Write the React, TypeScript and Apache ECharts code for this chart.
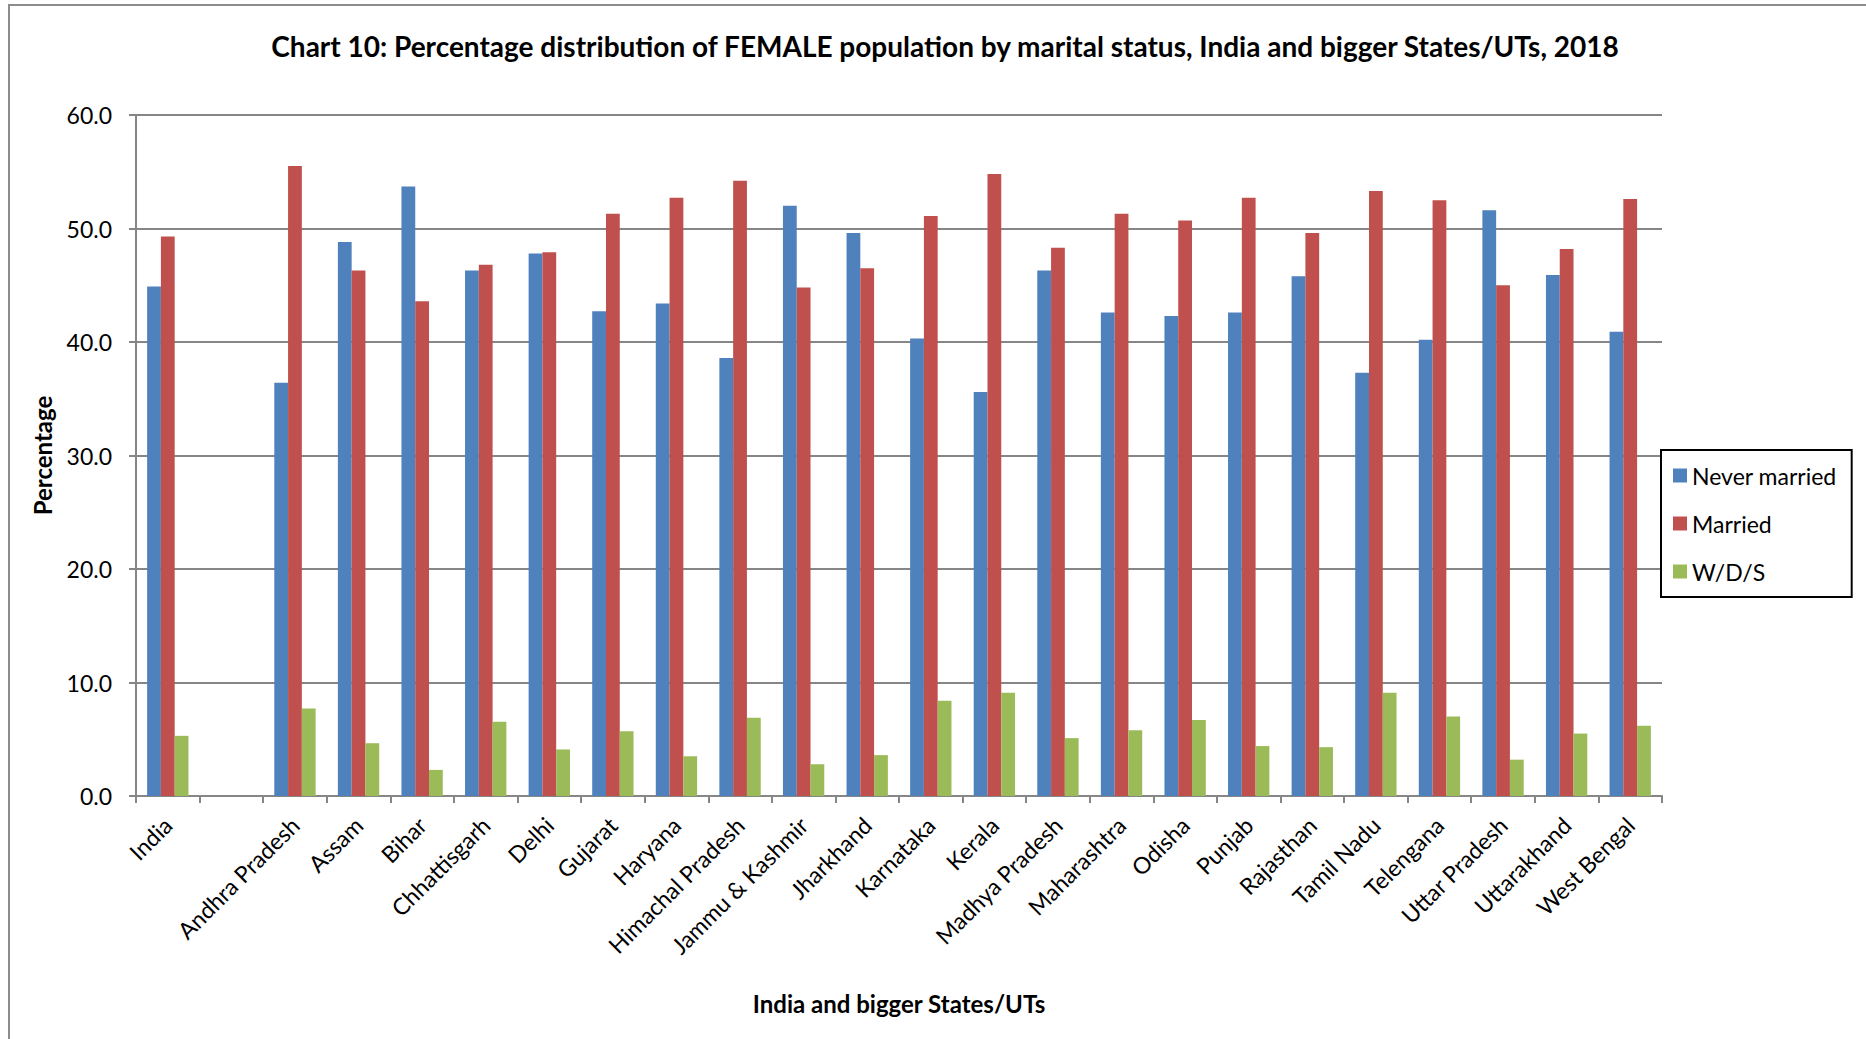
import React, { useEffect, useRef } from "react";
import * as echarts from "echarts";

const categories = [
  "India", "", "Andhra Pradesh", "Assam", "Bihar", "Chhattisgarh", "Delhi", "Gujarat",
  "Haryana", "Himachal Pradesh", "Jammu & Kashmir", "Jharkhand", "Karnataka", "Kerala",
  "Madhya Pradesh", "Maharashtra", "Odisha", "Punjab", "Rajasthan", "Tamil Nadu",
  "Telengana", "Uttar Pradesh", "Uttarakhand", "West Bengal",
];

const neverMarried = [
  44.9, null, 36.4, 48.8, 53.7, 46.3, 47.8, 42.7, 43.4, 38.6, 52.0, 49.6, 40.3, 35.6,
  46.3, 42.6, 42.3, 42.6, 45.8, 37.3, 40.2, 51.6, 45.9, 40.9,
];

const married = [
  49.3, null, 55.5, 46.3, 43.6, 46.8, 47.9, 51.3, 52.7, 54.2, 44.8, 46.5, 51.1, 54.8,
  48.3, 51.3, 50.7, 52.7, 49.6, 53.3, 52.5, 45.0, 48.2, 52.6,
];

const wds = [
  5.3, null, 7.7, 4.65, 2.3, 6.55, 4.1, 5.7, 3.5, 6.9, 2.8, 3.6, 8.4, 9.1,
  5.1, 5.8, 6.7, 4.4, 4.3, 9.1, 7.0, 3.2, 5.5, 6.2,
];

const yTicks = [0, 10, 20, 30, 40, 50, 60];

const seriesNames = ["Never married", "Married", "W/D/S"];
const seriesColors = ["#4F81BD", "#C0504D", "#9BBB59"];

const FONT = "Lato, 'Open Sans', sans-serif";

export default function App() {
  const ref = useRef<HTMLDivElement>(null);

  useEffect(() => {
    if (!ref.current) return;
    const chart = echarts.init(ref.current, null, { renderer: "svg" });
    const dataSets = [neverMarried, married, wds];
    chart.setOption({
      animation: false,
      backgroundColor: "#ffffff",
      textStyle: { fontFamily: FONT, color: "#000" },
      title: {
        text: "Chart 10: Percentage distribution of FEMALE population by marital status, India and bigger States/UTs, 2018",
        left: 940,
        top: 27,
        textAlign: "center",
        textStyle: { fontFamily: FONT, fontWeight: "bold", fontSize: 28, color: "#000" },
      },
      graphic: [
        {
          type: "rect",
          shape: { x: 9, y: 5, width: 1900, height: 1100 },
          style: { fill: "none", stroke: "#8c8c8c", lineWidth: 2 },
          silent: true,
        },
      ],
      legend: {
        orient: "vertical",
        left: 1661,
        top: 450,
        padding: [14, 15, 14, 12],
        itemGap: 25,
        itemWidth: 14,
        itemHeight: 14,
        icon: "rect",
        borderColor: "#000",
        borderWidth: 2,
        data: seriesNames,
        textStyle: { fontFamily: FONT, fontSize: 23, color: "#000", lineHeight: 23 },
      },
      grid: { left: 136, right: 204, top: 115, bottom: 243, containLabel: false },
      xAxis: {
        type: "category",
        data: categories,
        boundaryGap: true,
        name: "India and bigger States/UTs",
        nameLocation: "middle",
        nameGap: 195,
        nameTextStyle: { fontFamily: FONT, fontWeight: "bold", fontSize: 24, color: "#000" },
        axisLine: { lineStyle: { color: "#868686", width: 2 } },
        axisTick: { show: true, interval: 0, length: 7, lineStyle: { color: "#868686", width: 2 } },
        axisLabel: {
          interval: 0,
          rotate: 45,
          margin: 25,
          fontFamily: FONT,
          fontSize: 23,
          color: "#000",
        },
      },
      yAxis: {
        type: "value",
        min: yTicks[0],
        max: yTicks[yTicks.length - 1],
        interval: 10,
        name: "Percentage",
        nameLocation: "middle",
        nameGap: 82,
        nameRotate: 90,
        nameTextStyle: { fontFamily: FONT, fontWeight: "bold", fontSize: 24, color: "#000" },
        axisLine: { show: true, lineStyle: { color: "#868686", width: 2 } },
        axisTick: { show: true, length: 7, lineStyle: { color: "#868686", width: 2 } },
        splitLine: { show: true, lineStyle: { color: "#868686", width: 2 } },
        axisLabel: {
          margin: 24,
          fontFamily: FONT,
          fontSize: 23,
          color: "#000",
          formatter: (v: number) => v.toFixed(1),
        },
      },
      series: seriesNames.map((name, i) => ({
        name,
        type: "bar",
        data: dataSets[i],
        barGap: "0%",
        barCategoryGap: "35%",
        itemStyle: { color: seriesColors[i] },
      })),
    });
    return () => chart.dispose();
  }, []);

  return (
    <div
      ref={ref}
      style={{ position: "fixed", left: 0, top: 0, width: 1866, height: 1039 }}
    />
  );
}
